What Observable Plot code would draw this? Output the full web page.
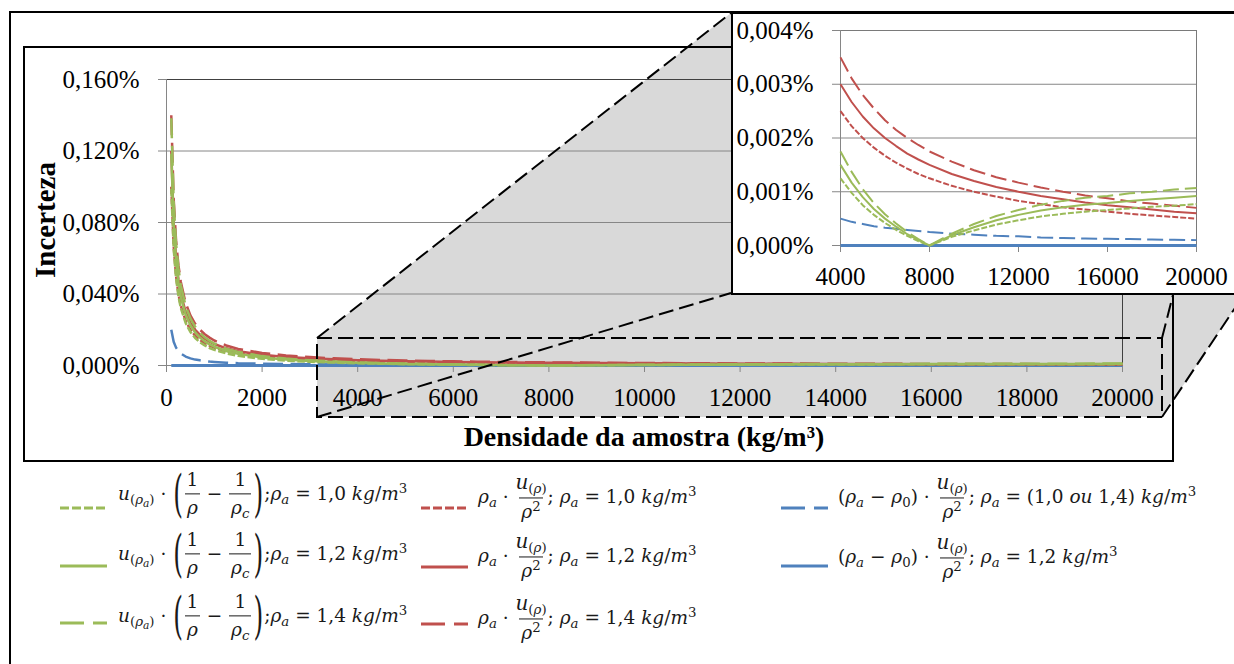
<!DOCTYPE html>
<html><head><meta charset="utf-8">
<script src="https://cdn.jsdelivr.net/npm/d3@7"></script>
<script src="https://cdn.jsdelivr.net/npm/@observablehq/plot@0.6"></script>
<style>
html,body{margin:0;padding:0;background:#fff;}
#root{position:relative;width:1234px;height:664px;overflow:hidden;background:#fff;}
.box{position:absolute;box-sizing:border-box;border:2px solid #000;}
.layer{position:absolute;left:0;top:0;}
.f{position:absolute;display:flex;align-items:center;white-space:pre;font-family:"DejaVu Serif",serif;font-size:18.5px;color:#1a1a1a;transform:translateY(-50%);}
.i{font-style:italic;}
.frac{display:inline-flex;flex-direction:column;align-items:center;margin:0 1px;line-height:1.25;}
.frac > span{display:block;}
.frac > span:first-child{padding-bottom:2px;}
.frac > span:last-child{border-top:1px solid #1a1a1a;padding:2px 2px 0 2px;}
.big{font-size:1.08em;}
.sub{font-size:0.72em;vertical-align:-0.3em;line-height:0;}
.sub2{font-size:0.8em;vertical-align:-0.25em;line-height:0;}
.sup{font-size:0.72em;vertical-align:0.55em;line-height:0;}
.paren{display:inline-block;font-size:25px;transform:scaleY(2.0);font-weight:300;margin:0 1px;}
</style></head><body><div id="root"></div>
<script>
// ---------------- data ----------------
const densidade = [100,150,200,250,300,400,500,600,700,800,900,1000,1250,1500,2000,2500,3000,3500,4000,4500,5000,5500,6000,6500,7000,7500,8000,9000,10000,11000,12000,13000,14000,15000,16000,17000,18000,19000,20000];

// u(ρa)·(1/ρ − 1/ρc), in %
const verdeRa10 = [0.0988,0.0654,0.0488,0.0388,0.0321,0.0238,0.0188,0.0154,0.013,0.01125,0.0098,0.00875,0.00675,0.0054,0.00375,0.00275,0.00208,0.00161,0.00125,0.00098,0.00075,0.00057,0.00042,0.00029,0.00018,0.00008,0,0.00016,0.00028,0.00039,0.00047,0.00054,0.00059,0.00063,0.00066,0.00069,0.00072,0.00074,0.00077];
const verdeRa12 = [0.1185,0.0785,0.0585,0.0465,0.0385,0.0285,0.0225,0.0185,0.0156,0.0135,0.0118,0.0105,0.0081,0.0065,0.0045,0.0033,0.0025,0.00193,0.0015,0.00117,0.0009,0.00068,0.0005,0.00035,0.00021,0.0001,0,0.00019,0.00034,0.00047,0.00057,0.00065,0.00071,0.00076,0.00079,0.00083,0.00086,0.00089,0.00092];
const verdeRa14 = [0.1383,0.0916,0.0683,0.0543,0.0449,0.0333,0.0263,0.0216,0.0182,0.01575,0.0138,0.01225,0.00945,0.0076,0.00525,0.00385,0.00292,0.00225,0.00175,0.00137,0.00105,0.00079,0.00058,0.00041,0.00025,0.00012,0,0.00022,0.0004,0.00055,0.00066,0.00076,0.00083,0.00089,0.00092,0.00097,0.001,0.00104,0.00107];

// ρa·u(ρ)/ρ², in %
const vermelhoRa10 = [0.1,0.0667,0.05,0.04,0.0333,0.025,0.02,0.0167,0.0143,0.0125,0.0111,0.01,0.008,0.0067,0.005,0.004,0.0033,0.00286,0.0025,0.00222,0.002,0.00182,0.00167,0.00154,0.00143,0.00133,0.00125,0.00111,0.001,0.00091,0.00083,0.00077,0.00071,0.00067,0.00063,0.00059,0.00056,0.00053,0.0005];
const vermelhoRa12 = [0.12,0.08,0.06,0.048,0.04,0.03,0.024,0.02,0.0171,0.015,0.0133,0.012,0.0096,0.008,0.006,0.0048,0.004,0.00343,0.003,0.00267,0.0024,0.00218,0.002,0.00185,0.00171,0.0016,0.0015,0.00133,0.0012,0.00109,0.001,0.00092,0.00086,0.0008,0.00075,0.00071,0.00067,0.00063,0.0006];
const vermelhoRa14 = [0.14,0.0933,0.07,0.056,0.0467,0.035,0.028,0.0233,0.02,0.0175,0.0156,0.014,0.0112,0.0093,0.007,0.0056,0.0047,0.004,0.0035,0.00311,0.0028,0.00255,0.00233,0.00215,0.002,0.00187,0.00175,0.00156,0.0014,0.00127,0.00117,0.00108,0.001,0.00093,0.00088,0.00082,0.00078,0.00074,0.0007];

// (ρa − ρ0)·u(ρ)/ρ², in %
const azulRa10ou14 = [0.02,0.0133,0.01,0.008,0.0067,0.005,0.004,0.0033,0.0029,0.0025,0.0022,0.002,0.0016,0.0013,0.001,0.0008,0.00067,0.00057,0.0005,0.00044,0.0004,0.00036,0.00033,0.00031,0.00029,0.00027,0.00025,0.00022,0.0002,0.00018,0.00017,0.00015,0.00014,0.00013,0.000125,0.00012,0.00011,0.000105,0.0001];
const azulRa12 = [0,0,0,0,0,0,0,0,0,0,0,0,0,0,0,0,0,0,0,0,0,0,0,0,0,0,0,0,0,0,0,0,0,0,0,0,0,0,0];

const yTicksPrincipal = [0, 0.04, 0.08, 0.12, 0.16];
const xTicksPrincipal = [0,2000,4000,6000,8000,10000,12000,14000,16000,18000,20000];
const yTicksDetalhe = [0, 0.001, 0.002, 0.003, 0.004];
const xTicksDetalhe = [4000, 8000, 12000, 16000, 20000];

// ---------------- styles ----------------
const VERDE = "#9bbb59", VERMELHO = "#c0504d", AZUL = "#4f81bd";
const series = [
  {values: azulRa12, color: AZUL, kind: "solid"},
  {values: azulRa10ou14, color: AZUL, kind: "long"},
  {values: vermelhoRa10, color: VERMELHO, kind: "short"},
  {values: vermelhoRa12, color: VERMELHO, kind: "solid"},
  {values: vermelhoRa14, color: VERMELHO, kind: "long"},
  {values: verdeRa10, color: VERDE, kind: "short"},
  {values: verdeRa12, color: VERDE, kind: "solid"},
  {values: verdeRa14, color: VERDE, kind: "long"}
];
function dash(kind, w) {
  if (kind === "short") return `${3*w},${w}`;
  if (kind === "long") return `${8*w},${3*w}`;
  return null;
}
const fmtPct = d => d.toFixed(3).replace(".", ",") + "%";
const fmtInt = d => String(d);

function lineMarks(minX, w, wSolidBlue) {
  return series.map(s => {
    const rows = densidade.map((x, i) => ({x, y: s.values[i]})).filter(r => r.x >= minX);
    const sw = (s.color === AZUL && s.kind === "solid") ? wSolidBlue : w;
    const o = {x: "x", y: "y", stroke: s.color, strokeWidth: sw, strokeLinejoin: "round", strokeLinecap: "butt"};
    const da = dash(s.kind, sw);
    if (da) o.strokeDasharray = da;
    return Plot.line(rows, o);
  });
}

const root = document.getElementById("root");
function addDiv(css, cls) {
  const d = document.createElement("div");
  if (cls) d.className = cls;
  d.style.cssText = css;
  root.appendChild(d);
  return d;
}

// outer frame
addDiv("left:9px;top:11px;width:1400px;height:800px;", "box");
// main chart area background
addDiv("position:absolute;left:23px;top:46px;width:1151px;height:416px;background:#fff;");

// gray projection (behind chart)
const bg = d3.select(root).append("svg").attr("class", "layer").attr("width", 1234).attr("height", 664).style("position", "absolute");
bg.append("polygon").attr("points", "317,338 731,13 1245,13 1245,293 1162,417 317,417").attr("fill", "#d9d9d9");

// main chart border
addDiv("left:23px;top:46px;width:1151px;height:416px;", "box");

// main plot
const main = Plot.plot({
  width: 1150, height: 414,
  marginLeft: 143, marginRight: 51, marginTop: 32, marginBottom: 96,
  x: {domain: [0, 20000]},
  y: {domain: [0, 0.16]},
  style: {background: "transparent", fontFamily: "'Liberation Serif', serif", fontSize: "25px", color: "#000", overflow: "visible"},
  marks: [
    Plot.ruleY([0.04, 0.08, 0.12], {stroke: "#868686"}),
    Plot.ruleY([0.16], {stroke: "#404040"}),
    Plot.ruleX([20000], {stroke: "#404040"}),
    Plot.ruleX([0], {stroke: "#868686"}),
    Plot.axisY(yTicksPrincipal, {tickSize: 8, tickPadding: 19, tickFormat: fmtPct, stroke: "#868686", fill: "#000", label: null}),
    Plot.axisX(xTicksPrincipal, {tickSize: 7, tickPadding: 16, tickFormat: fmtInt, stroke: "#868686", fill: "#000", label: null}),
    Plot.ruleY([0], {stroke: "#868686"}),
    ...lineMarks(0, 2.5, 3)
  ]
});
main.style.position = "absolute";
main.style.left = "23px";
main.style.top = "47px";
root.appendChild(main);

// foreground: titles and dashed projection lines
const fg = d3.select(root).append("svg").attr("class", "layer").attr("width", 1234).attr("height", 664).style("position", "absolute");
fg.append("text").attr("x", 644).attr("y", 446).attr("text-anchor", "middle")
  .attr("font-family", "Liberation Serif").attr("font-weight", "bold").attr("font-size", 28)
  .text("Densidade da amostra (kg/m³)");
fg.append("text").attr("transform", "translate(55,220) rotate(-90)").attr("text-anchor", "middle")
  .attr("font-family", "Liberation Serif").attr("font-weight", "bold").attr("font-size", 29)
  .text("Incerteza");
const dl = fg.append("g").attr("stroke", "#000").attr("stroke-width", 2).attr("stroke-dasharray", "15,6").attr("fill", "none");
dl.append("rect").attr("x", 317).attr("y", 338).attr("width", 845).attr("height", 79);
[[317,338,731,13],[317,417,731,293],[1162,338,1245,13],[1162,417,1245,293]].forEach(([a,b,c,d]) =>
  dl.append("line").attr("x1", a).attr("y1", b).attr("x2", c).attr("y2", d));

// inset box
addDiv("left:731px;top:12px;width:520px;height:283px;background:#fff;", "box");
const inset = Plot.plot({
  width: 514, height: 280,
  marginLeft: 109, marginRight: 49, marginTop: 17, marginBottom: 48,
  x: {domain: [4000, 20000]},
  y: {domain: [0, 0.004]},
  style: {background: "transparent", fontFamily: "'Liberation Serif', serif", fontSize: "25px", color: "#000", overflow: "visible"},
  marks: [
    Plot.ruleY([0.001, 0.002, 0.003], {stroke: "#868686"}),
    Plot.ruleY([0.004], {stroke: "#7a7a7a"}),
    Plot.ruleX([20000], {stroke: "#7a7a7a"}),
    Plot.ruleX([4000], {stroke: "#868686"}),
    Plot.axisY(yTicksDetalhe, {tickSize: 8, tickPadding: 19, tickFormat: fmtPct, stroke: "#868686", fill: "#000", label: null}),
    Plot.axisX(xTicksDetalhe, {tickSize: 7, tickPadding: 15, tickFormat: fmtInt, stroke: "#868686", fill: "#000", label: null}),
    Plot.ruleY([0], {stroke: "#868686"}),
    ...lineMarks(4000, 2, 3)
  ]
});
inset.style.position = "absolute";
inset.style.left = "731px";
inset.style.top = "13px";
root.appendChild(inset);

// ---------------- legend ----------------
const I = s => `<span class="i">${s}</span>`;
const sub = s => `<span class="sub">${s}</span>`;
const sub2 = s => `<span class="sub2">${s}</span>`;
const sup = s => `<span class="sup">${s}</span>`;
const rhoA = `${I("ρ")}${sub(I("a"))}`;
const uRhoA = `${I("u")}${sub(`(${I("ρ")}${sub2(I("a"))})`)}`;
const uRho = `<span class="big">${I("u")}</span>${sub(`(${I("ρ")})`)}`;
const frac = (n, d) => `<span class="frac"><span>${n}</span><span>${d}</span></span>`;
const paren = c => `<span class="paren">${c}</span>`;
const unit = `${I("kg")}/${I("m")}${sup("3")}`;

const legendVals = ["1,0", "1,2", "1,4"];
const fGreen = v => `<span>${uRhoA} · </span>${paren("(")}${frac("1", I("ρ"))}<span> − </span>${frac("1", I("ρ") + sub(I("c")))}${paren(")")}<span>;${rhoA} = ${v} ${unit}</span>`;
const fRed = v => `<span>${rhoA} · </span>${frac(uRho, I("ρ") + sup("2"))}<span>; ${rhoA} = ${v} ${unit}</span>`;
const fBlue = v => `<span>(${rhoA} − ${I("ρ")}${sub("0")}) · </span>${frac(uRho, I("ρ") + sup("2"))}<span>; ${rhoA} = ${v} ${unit}</span>`;

const legendItems = [
  {x: 118, y: 494, iconX: 60, iconY: 508, color: VERDE, kind: "short", html: fGreen(legendVals[0])},
  {x: 118, y: 554, iconX: 60, iconY: 566, color: VERDE, kind: "solid", html: fGreen(legendVals[1])},
  {x: 118, y: 616, iconX: 60, iconY: 623, color: VERDE, kind: "long", html: fGreen(legendVals[2])},
  {x: 478, y: 497, iconX: 421, iconY: 508, color: VERMELHO, kind: "short", html: fRed(legendVals[0])},
  {x: 478, y: 556, iconX: 421, iconY: 567, color: VERMELHO, kind: "solid", html: fRed(legendVals[1])},
  {x: 478, y: 618, iconX: 421, iconY: 624, color: VERMELHO, kind: "long", html: fRed(legendVals[2])},
  {x: 838, y: 497, iconX: 781, iconY: 508, color: AZUL, kind: "long", html: fBlue(`(1,0 ${I("ou")} 1,4)`)},
  {x: 838, y: 557, iconX: 781, iconY: 566, color: AZUL, kind: "solid", html: fBlue("1,2")}
];
const lg = d3.select(root).append("svg").attr("class", "layer").attr("width", 1234).attr("height", 664).style("position", "absolute");
legendItems.forEach(it => {
  const ln = lg.append("line").attr("x1", it.iconX).attr("x2", it.iconX + 47).attr("y1", it.iconY).attr("y2", it.iconY)
    .attr("stroke", it.color).attr("stroke-width", 3);
  const da = dash(it.kind, 3);
  if (da) ln.attr("stroke-dasharray", da);
  const d = addDiv(`left:${it.x}px;top:${it.y}px;`, "f");
  d.innerHTML = it.html;
});
</script></body></html>
